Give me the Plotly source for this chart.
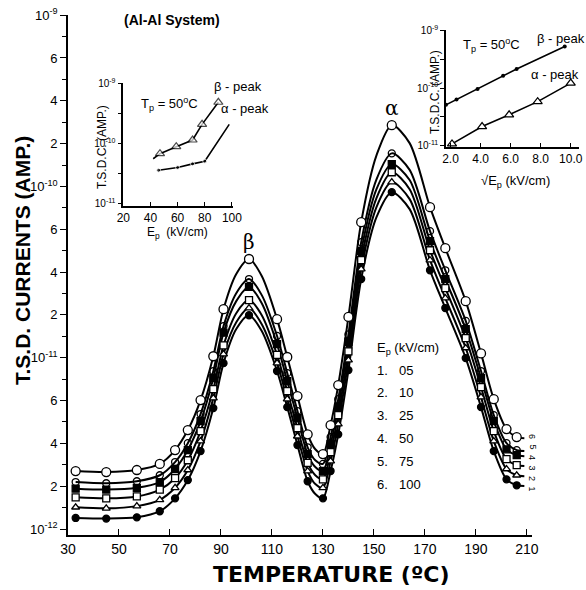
import math
import plotly.graph_objects as go

# ---------------- main chart data ----------------
TEMPS = [33, 45, 57, 66, 72, 77, 82, 87, 91, 96, 101, 106, 112, 116, 120, 124, 127, 130,
         133, 136, 140, 145, 151, 157, 164, 172, 178, 186, 192, 197, 202, 206, 209]
MARKER_TEMPS = [33, 45, 57, 66, 72, 77, 82, 87, 91, 101, 112, 116, 120, 124, 130, 133, 136,
                140, 145, 157, 172, 178, 186, 192, 197, 202, 206]

I_05 = [1.16e-12, 1.15e-12, 1.17e-12, 1.27e-12, 1.51e-12, 1.93e-12, 2.85e-12, 5.08e-12, 9.30e-12,
        1.47e-11, 1.77e-11, 1.43e-11, 8.36e-12, 5.15e-12, 3.09e-12, 1.90e-12, 1.60e-12, 1.51e-12,
        2.18e-12, 3.57e-12, 8.47e-12, 2.88e-11, 6.62e-11, 9.26e-11, 7.37e-11, 3.24e-11, 1.95e-11,
        9.95e-12, 5.15e-12, 2.85e-12, 1.95e-12, 1.80e-12, 1.78e-12]
I_10 = [1.34e-12, 1.32e-12, 1.36e-12, 1.48e-12, 1.74e-12, 2.21e-12, 3.26e-12, 5.81e-12, 1.05e-11,
        1.61e-11, 1.95e-11, 1.57e-11, 9.30e-12, 5.73e-12, 3.48e-12, 2.18e-12, 1.83e-12, 1.74e-12,
        2.49e-12, 4.10e-12, 9.68e-12, 3.29e-11, 7.57e-11, 1.06e-10, 8.43e-11, 3.71e-11, 2.23e-11,
        1.14e-11, 5.89e-12, 3.26e-12, 2.24e-12, 2.06e-12, 2.03e-12]
I_25 = [1.53e-12, 1.51e-12, 1.55e-12, 1.70e-12, 1.98e-12, 2.52e-12, 3.73e-12, 6.56e-12, 1.18e-11,
        1.82e-11, 2.17e-11, 1.77e-11, 1.04e-11, 6.38e-12, 3.88e-12, 2.43e-12, 2.06e-12, 1.95e-12,
        2.81e-12, 4.62e-12, 1.09e-11, 3.71e-11, 8.55e-11, 1.21e-10, 9.64e-11, 4.24e-11, 2.55e-11,
        1.30e-11, 6.74e-12, 3.73e-12, 2.56e-12, 2.36e-12, 2.33e-12]
I_50 = [1.72e-12, 1.70e-12, 1.74e-12, 1.88e-12, 2.24e-12, 2.89e-12, 4.26e-12, 7.60e-12, 1.40e-11,
        2.14e-11, 2.59e-11, 2.08e-11, 1.20e-11, 7.30e-12, 4.44e-12, 2.74e-12, 2.30e-12, 2.18e-12,
        3.13e-12, 5.15e-12, 1.24e-11, 4.19e-11, 9.64e-11, 1.35e-10, 1.09e-10, 4.79e-11, 2.88e-11,
        1.47e-11, 7.60e-12, 4.26e-12, 2.92e-12, 2.70e-12, 2.66e-12]
I_75 = [1.88e-12, 1.85e-12, 1.90e-12, 2.06e-12, 2.46e-12, 3.17e-12, 4.69e-12, 8.36e-12, 1.53e-11,
        2.38e-11, 2.88e-11, 2.32e-11, 1.34e-11, 8.13e-12, 4.88e-12, 3.00e-12, 2.52e-12, 2.40e-12,
        3.44e-12, 5.73e-12, 1.37e-11, 4.73e-11, 1.10e-10, 1.56e-10, 1.25e-10, 5.48e-11, 3.24e-11,
        1.64e-11, 8.36e-12, 4.62e-12, 3.17e-12, 2.89e-12, 2.85e-12]
I_100 = [2.18e-12, 2.15e-12, 2.21e-12, 2.40e-12, 2.89e-12, 3.78e-12, 5.66e-12, 1.02e-11, 1.92e-11,
         3.08e-11, 3.77e-11, 3.00e-11, 1.68e-11, 1.01e-11, 5.97e-12, 3.57e-12, 2.92e-12, 2.74e-12,
         4.04e-12, 6.92e-12, 1.73e-11, 6.19e-11, 1.52e-10, 2.28e-10, 1.79e-10, 7.57e-11, 4.36e-11,
         2.14e-11, 1.06e-11, 5.73e-12, 3.83e-12, 3.44e-12, 3.39e-12]

CURVE_NUMBERS = ["1", "2", "3", "4", "5", "6"]
EP_LABELS = ["05", "10", "25", "50", "75", "100"]

X_TICKS = [30, 50, 70, 90, 110, 130, 150, 170, 190, 210]
Y_DECADES = [-12, -11, -10, -9]
Y_SUB_LABELS = ["2", "4", "6"]

# ---------------- inset 1 (vs E_p) ----------------
IN1_EP_BETA = [42, 47, 59, 71, 78, 90]
IN1_BETA = [5.6e-11, 6.8e-11, 8.9e-11, 1.15e-10, 2.1e-10, 4.9e-10]
IN1_EP_ALPHA = [46, 60, 71, 80, 98]
IN1_ALPHA = [3.6e-11, 4.0e-11, 4.6e-11, 5.1e-11, 2.1e-10]
IN1_X_TICKS = [20, 40, 60, 80, 100]

# ---------------- inset 2 (vs sqrt E_p) ----------------
IN2_SQ_BETA = [1.7, 2.4, 3.8, 5.5, 6.4, 9.6]
IN2_BETA = [5.1e-11, 6.3e-11, 9.6e-11, 1.63e-10, 2.15e-10, 5.3e-10]
IN2_SQ_ALPHA = [2.1, 4.1, 5.9, 7.8, 10.0]
IN2_ALPHA = [1.07e-11, 2.14e-11, 3.42e-11, 5.8e-11, 1.22e-10]
IN2_X_TICKS = [2, 4, 6, 8, 10]
IN2_X_TICKTEXT = ["2.0", "4.0", "6.0", "8.0", "10.0"]

INSET_Y_DECADES = [-11, -10, -9]

# ---------------- layout geometry ----------------
W, H = 586, 590
ML, MR, MT, MB = 68, 5, 15, 55
PW, PH = W - ML - MR, H - MT - MB


def px(xp):
    return (xp - ML) / PW


def py(yp):
    return (H - MB - yp) / PH


FONT = "Liberation Sans, Arial, sans-serif"
fig = go.Figure()

curves = [I_05, I_10, I_25, I_50, I_75, I_100]
symbols = ["circle", "triangle-up", "square", "square", "circle-open", "circle"]
fills = ["black", "white", "white", "black", "black", "white"]
sizes = [7, 7, 7, 7, 7, 9]

for vals in curves:
    fig.add_trace(go.Scatter(x=TEMPS, y=vals, mode="lines",
                             line=dict(color="black", width=2, shape="spline", smoothing=0.8),
                             xaxis="x", yaxis="y", showlegend=False, hoverinfo="skip"))
for vals, sym, fc, sz in zip(curves, symbols, fills, sizes):
    mx = [t for t in TEMPS if t in MARKER_TEMPS]
    my = [v for t, v in zip(TEMPS, vals) if t in MARKER_TEMPS]
    fig.add_trace(go.Scatter(x=mx, y=my, mode="markers",
                             marker=dict(symbol=sym, size=sz, color=fc,
                                         line=dict(color="black", width=1.3)),
                             xaxis="x", yaxis="y", showlegend=False))

# inset 1
fig.add_trace(go.Scatter(x=IN1_EP_BETA, y=IN1_BETA, mode="lines+markers",
                         line=dict(color="black", width=1.6),
                         marker=dict(symbol="triangle-up", size=[0] + [8] * (len(IN1_BETA) - 1),
                                     color="white", line=dict(color="black", width=1.2)),
                         xaxis="x2", yaxis="y2", showlegend=False))
fig.add_trace(go.Scatter(x=IN1_EP_ALPHA, y=IN1_ALPHA, mode="lines+markers",
                         line=dict(color="black", width=1.6),
                         marker=dict(symbol="circle", size=[4, 4, 4, 4, 0], color="black"),
                         xaxis="x2", yaxis="y2", showlegend=False))
# inset 2
fig.add_trace(go.Scatter(x=IN2_SQ_BETA, y=IN2_BETA, mode="lines+markers",
                         line=dict(color="black", width=1.6),
                         marker=dict(symbol="circle", size=4, color="black"),
                         xaxis="x3", yaxis="y3", showlegend=False, cliponaxis=False))
fig.add_trace(go.Scatter(x=IN2_SQ_ALPHA, y=IN2_ALPHA, mode="lines+markers",
                         line=dict(color="black", width=1.6),
                         marker=dict(symbol="triangle-up", size=8, color="white",
                                     line=dict(color="black", width=1.2)),
                         xaxis="x3", yaxis="y3", showlegend=False, cliponaxis=False))

# main y ticks (labels as drawn in the original: 2, 4, 6 at quarter decades)
ytv, ytt, yminor = [], [], []
for d in Y_DECADES:
    ytv.append(10 ** d)
    ytt.append("10<sup>%d</sup>" % d)
    if d < Y_DECADES[-1]:
        for k, lab in enumerate(Y_SUB_LABELS, start=1):
            ytv.append(10 ** (d + k / 4))
            ytt.append(lab)
        for k in (1, 3, 5, 7):
            yminor.append(10 ** (d + k / 8))

in_tv = [10 ** d for d in INSET_Y_DECADES]
in_tt = ["10<sup>%d</sup>" % d for d in INSET_Y_DECADES]
in_minor = [10 ** (d + 0.5) for d in INSET_Y_DECADES[:-1]]

axis_common = dict(showline=True, linecolor="black", linewidth=1.6, showgrid=False,
                   zeroline=False, tickcolor="black", tickwidth=1.4, automargin=False,
                   mirror=False)

fig.update_layout(
    width=W, height=H,
    margin=dict(l=ML, r=MR, t=MT, b=MB),
    paper_bgcolor="white", plot_bgcolor="white",
    font=dict(family=FONT, color="black"),
    xaxis=dict(domain=[0, px(532)], range=[30, 212], tickvals=X_TICKS, ticks="inside",
               ticklen=6, tickfont=dict(size=14), anchor="y", **axis_common),
    yaxis=dict(domain=[0, 1], type="log", range=[-12.035, -8.999], tickmode="array",
               tickvals=ytv, ticktext=ytt, ticks="outside", ticklen=6,
               tickfont=dict(size=13), anchor="x",
               minor=dict(tickvals=yminor, ticks="outside", ticklen=4, tickcolor="black",
                          tickwidth=1.2),
               **axis_common),
    xaxis2=dict(domain=[px(123.3), px(233.3)], range=[20, 101], tickvals=IN1_X_TICKS,
                ticks="inside", ticklen=4, tickfont=dict(size=12), anchor="y2", **axis_common),
    yaxis2=dict(domain=[py(206), py(82.5)], type="log", range=[-11.04, -8.98],
                tickmode="array", tickvals=in_tv, ticktext=in_tt, ticks="outside", ticklen=4,
                tickfont=dict(size=10), anchor="x2",
                minor=dict(tickvals=in_minor, ticks="outside", ticklen=4, tickcolor="black"),
                **axis_common),
    xaxis3=dict(domain=[px(446), px(579)], range=[1.7, 10.55], tickvals=IN2_X_TICKS,
                ticktext=IN2_X_TICKTEXT, ticks="inside", ticklen=4, tickfont=dict(size=12),
                anchor="y3", **axis_common),
    yaxis3=dict(domain=[py(146.7), py(30)], type="log", range=[-11.02, -8.99],
                tickmode="array", tickvals=in_tv, ticktext=in_tt, ticks="outside", ticklen=4,
                tickfont=dict(size=10), anchor="x3",
                minor=dict(tickvals=in_minor, ticks="outside", ticklen=4, tickcolor="black"),
                **axis_common),
)

ann = []


def text(t, xp, yp, size=13, angle=0, xanchor="center", family=FONT):
    ann.append(dict(text=t, x=px(xp), y=py(yp), xref="paper", yref="paper",
                    showarrow=False, xanchor=xanchor, yanchor="middle", textangle=angle,
                    font=dict(size=size, family=family, color="black")))


# axis titles
text("<b>T.S.D. CURRENTS (AMP.)</b>", 22, 261, size=21, angle=-90)
text("<b>TEMPERATURE (ºC)</b>", 331, 574, size=22,
     family="DejaVu Sans, Verdana, sans-serif")
text("<b>(Al-Al System)</b>", 172, 20, size=14)

# peak labels tied to data
i_b = I_100.index(max(I_100[:15]))
i_a = I_100.index(max(I_100))
for sym, idx in (("β", i_b), ("α", i_a)):
    ann.append(dict(text=sym, x=TEMPS[idx], y=math.log10(I_100[idx]), xref="x", yref="y",
                    showarrow=False, yanchor="bottom", yshift=3,
                    font=dict(size=20, family="DejaVu Serif, serif", color="black")))

# legend block
text("E<sub>p</sub> (kV/cm)", 375, 348, size=13, xanchor="left")
for i, (num, ep) in enumerate(zip(CURVE_NUMBERS, EP_LABELS)):
    yrow = 370 + i * 22.8
    text(num + ".", 375, yrow, size=13, xanchor="left")
    text(ep, 397, yrow, size=13, xanchor="left")

# curve end numbers (rotated)
for i, num in enumerate(reversed(CURVE_NUMBERS)):
    text(num, 532, 436 + i * 10.5, size=9, angle=90)

# inset 1 texts
text("T.S.D.C. (AMP.)", 102, 147, size=12, angle=-90)
text("E<sub>p</sub>  (kV/cm)", 177, 233, size=12)
text("T<sub>p</sub> = 50<sup>o</sup>C", 169, 104, size=13)
text("β - peak", 238, 87, size=13)
text("α - peak", 245, 108, size=13)

# inset 2 texts
text("T.S.D.C. (AMP.)", 435, 92, size=12, angle=-90)
text("√E<sub>p</sub> (kV/cm)", 515, 182, size=13)
text("T<sub>p</sub> = 50<sup>o</sup>C", 491, 45, size=13)
text("β - peak", 561, 39, size=13)
text("α - peak", 555, 74, size=13)

fig.update_layout(annotations=ann)
fig.write_html("out.html", config={"displayModeBar": False},
               post_script="document.body.style.margin='0';document.body.style.overflow='hidden';")
